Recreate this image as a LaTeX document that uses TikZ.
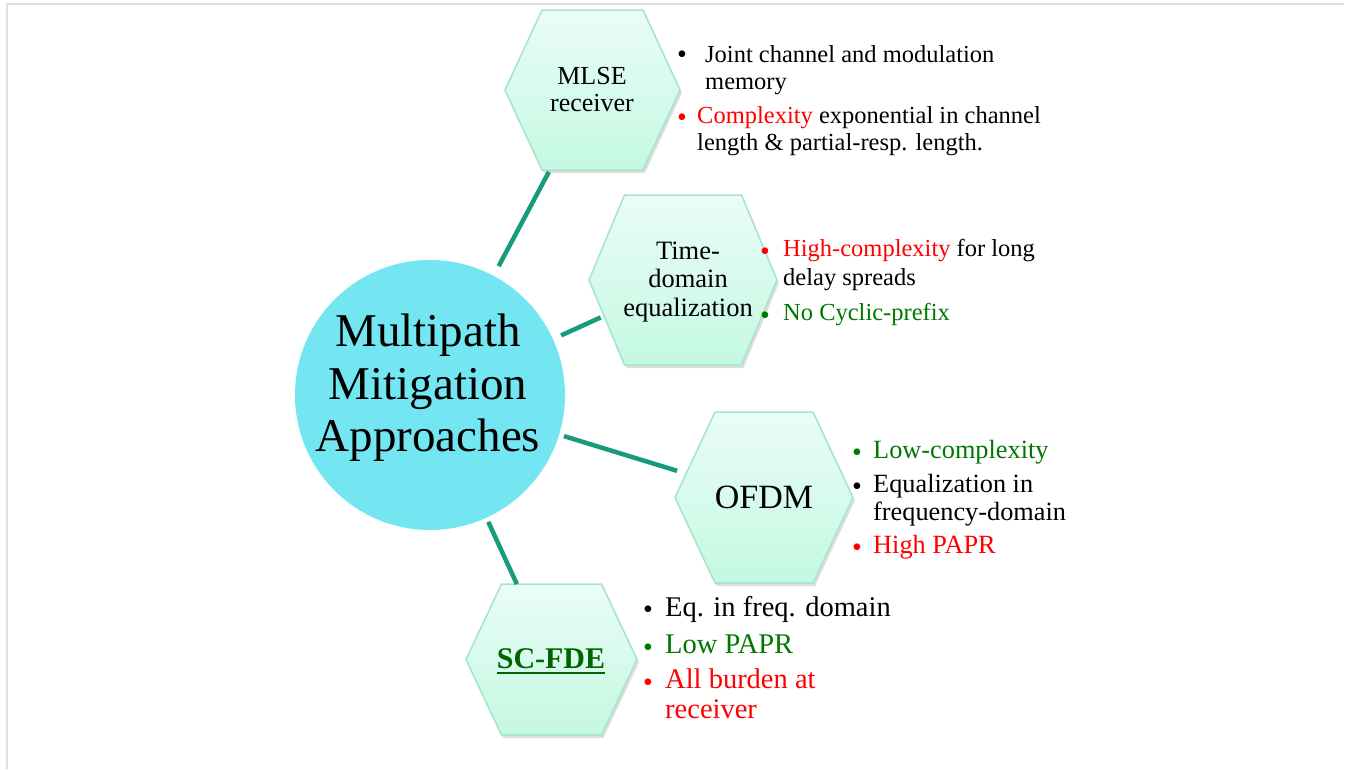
\documentclass[tikz,border=0pt]{standalone}
\usepackage{fontspec}
\setmainfont{Liberation Serif}
\usetikzlibrary{calc}
\definecolor{cyanc}{RGB}{115,230,242}
\definecolor{linkc}{RGB}{24,155,122}
\definecolor{hexborder}{RGB}{165,228,203}
\definecolor{hextop}{RGB}{234,253,246}
\definecolor{hexbot}{RGB}{196,248,226}
\definecolor{gtext}{RGB}{0,120,0}
\definecolor{scgreen}{RGB}{0,100,0}
\definecolor{rtext}{RGB}{255,0,0}
\definecolor{framec}{RGB}{224,224,224}
\tikzset{
  pics/hexa/.style n args={3}{code={
    \path[fill=black, opacity=0.13] (-#1+2,3) -- (-#3+2,-#2+3) -- (#3+2,-#2+3) -- (#1+2,3) -- (#3+2,#2+3) -- (-#3+2,#2+3) -- cycle;
    \path[hexa] (-#1,0) -- (-#3,-#2) -- (#3,-#2) -- (#1,0) -- (#3,#2) -- (-#3,#2) -- cycle;
  }}
}
\begin{document}
\begin{tikzpicture}[x=1pt,y=-1pt,
  hexa/.style={draw=hexborder, line width=1.5pt, top color=hextop, bottom color=hexbot},
  link/.style={draw=linkc, line width=4.5pt},
  hexlabel/.style={align=center, inner sep=0pt},
  ltxt/.style={anchor=base west, inner sep=0pt},
  bul/.style={anchor=base, inner sep=0pt, font=\fontsize{28}{28}\selectfont},
  fa/.style={font=\fontsize{24.5}{28}\selectfont},
  fb/.style={font=\fontsize{26.3}{28}\selectfont},
  fc/.style={font=\fontsize{28.5}{30}\selectfont}
]
\useasboundingbox (0,0) rectangle (1357,769);
\fill[white] (0,0) rectangle (1357,769);
\draw[framec, line width=1.8pt] (7,769) -- (7,4) -- (1344,4);

% centres
\coordinate (m) at (592.5,90);
\coordinate (t) at (683,280);
\coordinate (o) at (764,497.5);
\coordinate (s) at (551.5,659.5);

% hexagons
\pic at (m) {hexa={87.5}{80}{50.5}};
\pic at (t) {hexa={94}{85}{58.5}};
\pic at (o) {hexa={89}{85.5}{49}};
\pic at (s) {hexa={85.5}{75.5}{50}};

% central circle
\node[circle, fill=cyanc, minimum size=270pt, inner sep=0pt] (c) at (430,395) {};
\node[hexlabel, font=\fontsize{47}{52.5}\selectfont] (ct) at (428,388) {Multipath\\Mitigation\\Approaches};

% connectors
\draw[link] ($(c)!146pt!(m)$) -- ($(m)!92.8pt!(c)$);
\draw[link] ($(c)!144pt!(t)$) -- ($(t)!90.5pt!(c)$);
\draw[link] ($(c)!140.2pt!(o)$) -- ($(o)!90.9pt!(c)$);
\draw[link] ($(c)!139.6pt!(s)$) -- ($(s)!83pt!(c)$);

% hexagon labels
\node[hexlabel, font=\fontsize{26}{27}\selectfont] (ml) at (592,90) {MLSE\\receiver};
\node[hexlabel, font=\fontsize{26.5}{28.5}\selectfont] (tl) at (688,282) {Time-\\domain\\equalization};
\node[hexlabel, font=\fontsize{34}{34}\selectfont] (ol) at (764,497) {OFDM};
\node[anchor=base, inner sep=0pt, text=scgreen, font=\bfseries\fontsize{30}{30}\selectfont] (sl) at (551,668) {SC-FDE};
\draw[scgreen, line width=2.5pt] ([yshift=-5pt]sl.base west) -- ([yshift=-5pt]sl.base east);

% MLSE list
\node[bul] (mb1) at (682,63) {•};
\node[ltxt, fa] (m1) at (705,62) {Joint channel and modulation};
\node[ltxt, fa] (m2) at (705,89) {memory};
\node[bul, text=rtext] (mb2) at (682,126) {•};
\node[ltxt, fa] (m3) at (697,123) {\textcolor{rtext}{Complexity} exponential in channel};
\node[ltxt, fa] (m4) at (697,150) {length \& partial-resp. length.};

% Time-domain list
\node[bul, text=rtext] (tb1) at (765,260) {•};
\node[ltxt, fa] (t1) at (783,256) {\textcolor{rtext}{High-complexity} for long};
\node[ltxt, fa] (t2) at (783,285) {delay spreads};
\node[bul, text=gtext] (tb2) at (765,324) {•};
\node[ltxt, fa, text=gtext] (t3) at (783,320) {No Cyclic-prefix};

% OFDM list
\node[bul, text=gtext] (ob1) at (857,461) {•};
\node[ltxt, fb, text=gtext] (o1) at (873,458) {Low-complexity};
\node[bul] (ob2) at (857,495) {•};
\node[ltxt, fb] (o2) at (873,492) {Equalization in};
\node[ltxt, fb] (o3) at (873,520) {frequency-domain};
\node[bul, text=rtext] (ob3) at (857,556) {•};
\node[ltxt, fb, text=rtext] (o4) at (873,553) {High PAPR};

% SC-FDE list
\node[bul] (sb1) at (648,618) {•};
\node[ltxt, fc] (s1) at (665,616) {Eq. in freq. domain};
\node[bul, text=gtext] (sb2) at (648,656) {•};
\node[ltxt, fc, text=gtext] (s2) at (665,653) {Low PAPR};
\node[bul, text=rtext] (sb3) at (648,691) {•};
\node[ltxt, fc, text=rtext] (s3) at (665,688) {All burden at};
\node[ltxt, fc, text=rtext] (s4) at (665,718) {receiver};
\end{tikzpicture}
\end{document}
